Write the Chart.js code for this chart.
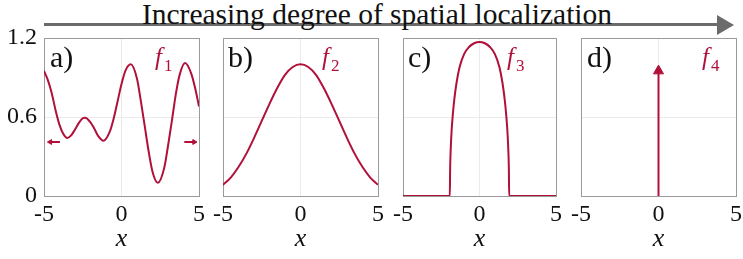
<!DOCTYPE html>
<html>
<head>
<meta charset="utf-8">
<script src="https://cdn.jsdelivr.net/npm/chart.js@4.4.1/dist/chart.umd.min.js"></script>
<style>
  body { margin: 0; background: #fff; width: 743px; height: 259px; position: relative; overflow: hidden; }
  canvas { position: absolute; top: 0; }
  #arrowLine { position: absolute; left: 44px; top: 23px; width: 675px; height: 3px; background: #6b6b6b; }
  #arrowHead { position: absolute; left: 717px; top: 15px; width: 0; height: 0; border-top: 10px solid transparent; border-bottom: 10px solid transparent; border-left: 17px solid #6b6b6b; }
</style>
</head>
<body>
<div id="arrowLine"></div>
<div id="arrowHead"></div>
<div id="title" style="position: absolute; left: 0; top: -2px; width: 754px; text-align: center; font-size: 29.5px; color: #111; white-space: nowrap; font-family: 'Liberation Serif';">Increasing degree of spatial localization</div>
<canvas id="pa"></canvas>
<canvas id="pb"></canvas>
<canvas id="pc"></canvas>
<canvas id="pd"></canvas>
<script>
// ticks
const xTicks = [-5, 0, 5];
const yTicks = [0, 0.6, 1.2];

// a) f1 - wavy signal
const f1X = [-5, -4.75, -4.5, -4.25, -4, -3.75, -3.5, -3.25, -3, -2.75, -2.5, -2.35, -2, -1.75, -1.5, -1.15,
             -0.75, -0.5, -0.25, 0, 0.25, 0.6, 1, 1.25, 1.5, 1.75, 2, 2.35, 2.75, 3, 3.25, 3.5, 3.75, 4.1, 4.5, 4.75, 5];
const f1Y = [0.95, 0.88, 0.78, 0.65, 0.54, 0.47, 0.44, 0.46, 0.505, 0.555, 0.59, 0.595, 0.56, 0.51, 0.455, 0.42,
             0.49, 0.59, 0.72, 0.85, 0.95, 1.0, 0.89, 0.72, 0.53, 0.34, 0.185, 0.1, 0.21, 0.38, 0.57, 0.77, 0.92, 1.01, 0.93, 0.82, 0.68];
// small arrows in panel a (tail, head)
const leftArrowX = [-3.97, -4.6];
const rightArrowX = [4.05, 4.69];
const sideArrowY = [0.41, 0.41];

// b) f2 - bell
const f2X = [-5, -4.5, -4, -3.5, -3, -2.5, -2, -1.5, -1, -0.5, 0, 0.5, 1, 1.5, 2, 2.5, 3, 3.5, 4, 4.5, 5];
const f2Y = [0.085, 0.14, 0.22, 0.32, 0.44, 0.57, 0.70, 0.82, 0.92, 0.98, 1.0, 0.98, 0.92, 0.82, 0.70, 0.57, 0.44, 0.32, 0.22, 0.14, 0.085];

// c) f3 - compact bump
const f3X = [-5, -1.94, -1.92, -1.88, -1.82, -1.75, -1.65, -1.5, -1.3, -1.0, -0.7, -0.35, 0,
             0.35, 0.7, 1.0, 1.3, 1.5, 1.65, 1.75, 1.82, 1.88, 1.92, 1.94, 5];
const f3Y = [0, 0, 0.2, 0.36, 0.5, 0.61, 0.73, 0.86, 0.98, 1.08, 1.13, 1.16, 1.17,
             1.16, 1.13, 1.08, 0.98, 0.86, 0.73, 0.61, 0.5, 0.36, 0.2, 0, 0];

// d) f4 - delta spike
const f4X = [0, 0];
const f4Y = [0, 0.95];

const curveColor = '#b0103a';
const pts = (xs, ys) => xs.map((x, i) => ({ x: x, y: ys[i] }));

Chart.defaults.font.family = '"Liberation Serif"';

function curve(xs, ys) {
    return { data: pts(xs, ys), borderColor: curveColor, borderWidth: 2, pointRadius: 0, cubicInterpolationMode: 'monotone' };
}
function arrow(xs, ys, rot, r) {
    return { data: pts(xs, ys), borderColor: curveColor, borderWidth: 2, pointRadius: [0, r], pointStyle: 'triangle',
             pointRotation: rot, pointBackgroundColor: curveColor, pointBorderColor: curveColor, pointBorderWidth: 1 };
}

// panel letter + function name
const panelText = {
    id: 'panelText',
    afterDraw(chart, args, opts) {
        const { ctx, chartArea: a } = chart;
        ctx.save();
        ctx.textBaseline = 'alphabetic';
        ctx.fillStyle = '#111';
        ctx.font = '30px "Liberation Serif"';
        ctx.fillText(opts.letter, a.left + opts.lx, a.top + 29);
        ctx.fillStyle = curveColor;
        ctx.font = 'italic 25px "Liberation Serif"';
        const fx = a.right - opts.dx;
        ctx.fillText('f', fx, a.top + 27);
        const w = ctx.measureText('f').width;
        ctx.font = '17px "Liberation Serif"';
        ctx.fillText(opts.sub, fx + w + 2, a.top + 33);
        ctx.restore();
    }
};

function gridColor(light) {
    return ctx => (ctx.tick && light.includes(ctx.tick.value)) ? '#ebebeb' : '#9a9a9a';
}

function makePanel(id, left, width, datasets, letter, lx, sub, dx, showY) {
    const cv = document.getElementById(id);
    cv.width = 44 + width + 12;
    cv.height = 259;
    cv.style.left = (left - 44) + 'px';
    new Chart(cv, {
        type: 'line',
        data: { datasets: datasets },
        options: {
            responsive: false,
            animation: false,
            layout: { padding: { top: 38, right: 12, left: 0, bottom: 0 } },
            plugins: {
                legend: { display: false },
                tooltip: { enabled: false },
                panelText: { letter: letter, lx: lx, sub: sub, dx: dx }
            },
            scales: {
                x: {
                    type: 'linear', min: -5, max: 5,
                    afterBuildTicks: s => { s.ticks = xTicks.map(v => ({ value: v })); },
                    afterFit: s => { s.height = 63; },
                    ticks: { color: '#111', font: { size: 24 }, padding: 4, maxRotation: 0,
                             callback: v => String(v) },
                    grid: { color: gridColor([0]), drawTicks: false, lineWidth: 1 },
                    border: { color: '#9a9a9a' },
                    title: { display: true, text: 'x', color: '#111',
                             font: { size: 26, style: 'italic' }, padding: { top: 0, bottom: 4 } }
                },
                y: {
                    min: 0, max: 1.2,
                    afterBuildTicks: s => { s.ticks = yTicks.map(v => ({ value: v })); },
                    afterFit: s => { s.width = 44; },
                    ticks: { display: showY, color: '#111', font: { size: 24 }, padding: 7,
                             callback: v => String(v) },
                    grid: { color: gridColor([0.6]), drawTicks: false, lineWidth: 1 },
                    border: { color: '#9a9a9a' }
                }
            }
        },
        plugins: [panelText]
    });
}

makePanel('pa', 44, 155, [
    curve(f1X, f1Y),
    arrow(leftArrowX, sideArrowY, 270, 2.8),
    arrow(rightArrowX, sideArrowY, 90, 2.8)
], 'a)', 6, '1', 44, true);
makePanel('pb', 223, 155, [curve(f2X, f2Y)], 'b)', 5, '2', 56, false);
makePanel('pc', 403, 153, [curve(f3X, f3Y)], 'c)', 5, '3', 49, false);
makePanel('pd', 581, 155, [arrow(f4X, f4Y, 0, 5.8)], 'd)', 6, '4', 34, false);
</script>
</body>
</html>
